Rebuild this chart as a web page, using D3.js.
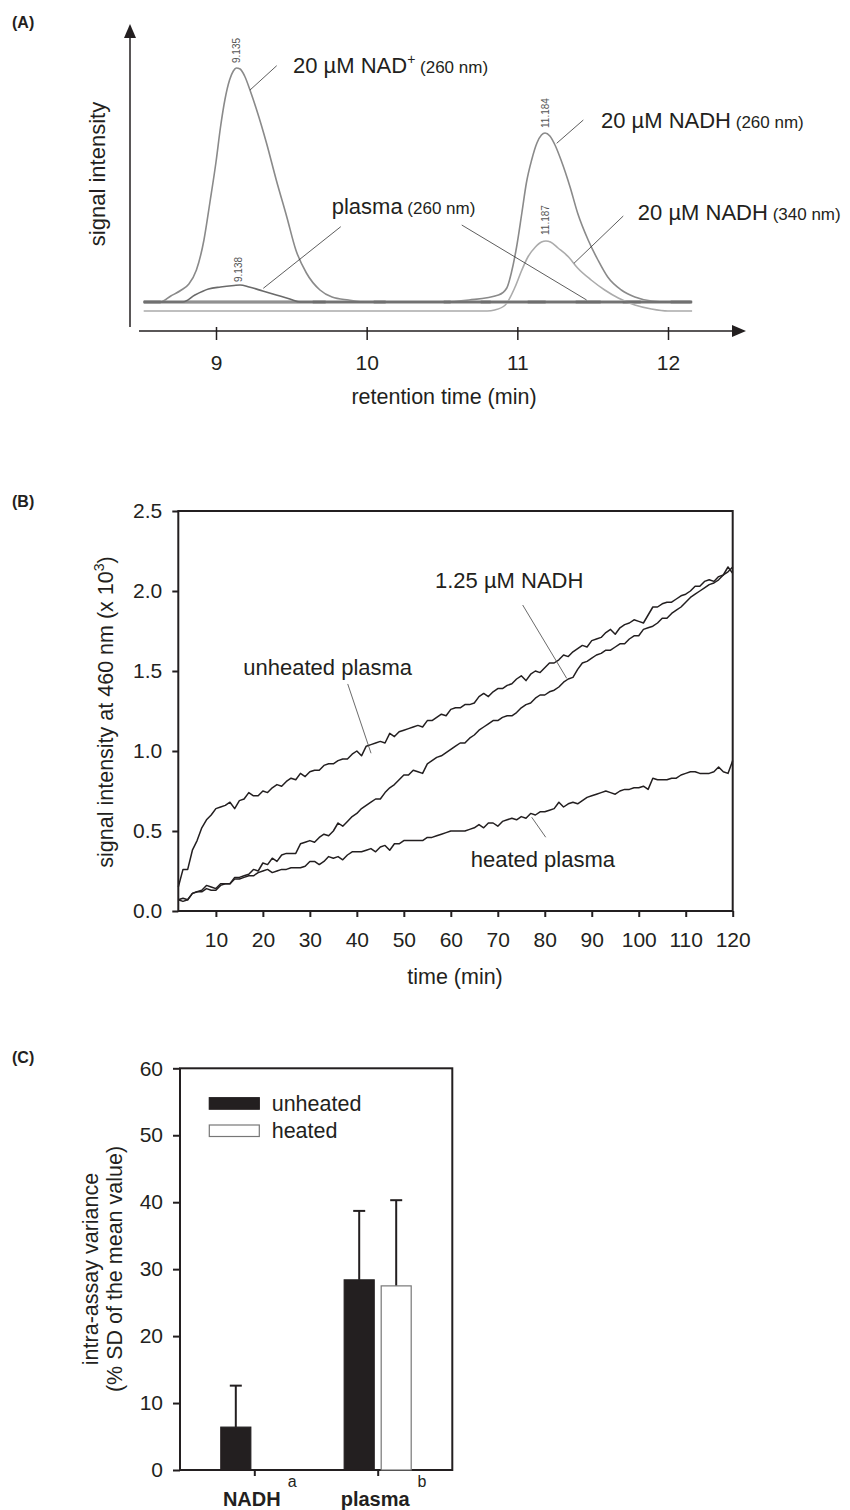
<!DOCTYPE html>
<html>
<head>
<meta charset="utf-8">
<script src="https://cdn.jsdelivr.net/npm/d3@7"></script>
<style>
  body { margin: 0; background: #fff; }
  svg text { font-family: "Liberation Sans", Arial, Helvetica, sans-serif; fill: #231f20; }
</style>
</head>
<body>
<div id="chart"></div>
<script>
// ---------- panel A: HPLC traces, [retention time (min), signal (a.u.)] ----------
const nadPlus260 = [[8.52,0],[8.63,0],[8.70,6],[8.77,12],[8.82,18],[8.87,32],[8.92,62],[8.96,100],
  [9.00,140],[9.03,175],[9.06,203],[9.09,222],[9.115,231],[9.135,234],[9.16,233],[9.19,226],[9.23,210],
  [9.27,192],[9.335,159],[9.40,122],[9.47,85],[9.53,52],[9.60,29],[9.69,12],[9.77,5],[9.88,2],[10.0,0],[12.16,0]]
const plasma260 = [[8.52,0],[8.78,0],[8.86,7],[8.95,13],[9.03,15],[9.12,16.5],[9.16,17],[9.22,15],
  [9.31,11],[9.40,7],[9.49,3],[9.56,0],[12.16,0]]
const nadh260 = [[8.52,0],[10.5,0],[10.68,2],[10.875,7],[10.93,14],[10.96,29],[10.995,55],[11.03,89],
  [11.06,119],[11.095,142],[11.13,159],[11.16,167],[11.184,169],[11.216,166],[11.25,157],[11.29,142],
  [11.35,115],[11.40,89],[11.47,62],[11.535,42],[11.60,25],[11.69,12],[11.78,5],[11.89,1],[12.0,0],[12.16,0]]
const nadh340 = [[8.52,-9],[10.80,-9],[10.85,-8],[10.92,-3],[10.985,15],[11.03,32],[11.07,45],[11.12,55],
  [11.16,60],[11.19,61],[11.22,60],[11.27,54],[11.34,45],[11.40,34],[11.49,22],[11.58,12],[11.67,4],
  [11.78,-3],[11.89,-7],[12.0,-9],[12.16,-9]]
const ticksA = [9, 10, 11, 12]

// ---------- panel B: fluorescence kinetics, one reading per minute ----------
const minutes = d3.range(2, 121)
const unheatedPlasma = [
  0.15,0.26,0.26,0.38,0.44,0.52,0.57,0.60,0.64,0.65,
  0.66,0.68,0.64,0.69,0.70,0.74,0.72,0.72,0.75,0.74,
  0.77,0.79,0.78,0.81,0.83,0.82,0.86,0.84,0.87,0.88,
  0.88,0.91,0.92,0.92,0.94,0.95,0.95,0.98,1.00,0.97,
  1.03,1.04,1.05,1.06,1.05,1.11,1.09,1.12,1.13,1.14,
  1.15,1.16,1.15,1.19,1.19,1.21,1.23,1.22,1.26,1.27,
  1.27,1.29,1.29,1.30,1.34,1.36,1.34,1.37,1.39,1.39,
  1.41,1.42,1.45,1.47,1.44,1.48,1.50,1.49,1.52,1.55,
  1.55,1.57,1.60,1.59,1.62,1.64,1.66,1.65,1.69,1.70,
  1.71,1.74,1.76,1.73,1.77,1.79,1.80,1.82,1.81,1.80,
  1.85,1.90,1.90,1.92,1.93,1.93,1.95,1.97,1.98,2.00,
  2.03,2.03,2.06,2.07,2.06,2.09,2.10,2.12,2.15]
const nadh125 = [
  0.07,0.08,0.07,0.11,0.12,0.13,0.16,0.15,0.14,0.17,
  0.17,0.17,0.21,0.21,0.22,0.23,0.26,0.25,0.30,0.29,
  0.33,0.31,0.35,0.36,0.36,0.36,0.42,0.43,0.44,0.43,
  0.46,0.48,0.47,0.50,0.55,0.53,0.56,0.59,0.61,0.64,
  0.66,0.68,0.70,0.70,0.74,0.77,0.79,0.82,0.85,0.85,
  0.88,0.87,0.86,0.92,0.94,0.96,0.97,0.99,1.01,1.03,
  1.05,1.05,1.08,1.10,1.13,1.15,1.17,1.19,1.19,1.21,
  1.22,1.22,1.24,1.27,1.29,1.30,1.33,1.35,1.35,1.37,
  1.38,1.40,1.43,1.45,1.46,1.51,1.55,1.56,1.58,1.60,
  1.61,1.63,1.63,1.65,1.67,1.67,1.70,1.72,1.72,1.76,
  1.77,1.78,1.80,1.83,1.83,1.86,1.88,1.90,1.93,1.96,
  1.98,2.00,2.02,2.04,2.05,2.07,2.10,2.15,2.11]
const heatedPlasma = [
  0.07,0.06,0.07,0.11,0.12,0.12,0.14,0.13,0.13,0.16,
  0.17,0.17,0.20,0.20,0.21,0.22,0.22,0.24,0.25,0.26,
  0.24,0.25,0.26,0.26,0.27,0.27,0.27,0.28,0.31,0.31,
  0.29,0.31,0.34,0.33,0.34,0.32,0.35,0.37,0.37,0.37,
  0.38,0.39,0.37,0.40,0.41,0.38,0.42,0.42,0.44,0.44,
  0.44,0.44,0.44,0.46,0.46,0.47,0.48,0.49,0.50,0.50,
  0.50,0.50,0.51,0.52,0.54,0.52,0.55,0.55,0.53,0.56,
  0.57,0.58,0.57,0.59,0.58,0.61,0.60,0.62,0.62,0.63,
  0.64,0.68,0.65,0.67,0.68,0.67,0.69,0.71,0.72,0.73,
  0.74,0.75,0.74,0.73,0.75,0.76,0.76,0.77,0.77,0.78,
  0.76,0.83,0.82,0.82,0.82,0.83,0.83,0.85,0.86,0.87,
  0.87,0.86,0.86,0.86,0.87,0.90,0.87,0.86,0.94]
const ticksBx = [10, 20, 30, 40, 50, 60, 70, 80, 90, 100, 110, 120]
const ticksBy = [0, 0.5, 1.0, 1.5, 2.0, 2.5]

// ---------- panel C: intra-assay variance ----------
const groups = ["NADH", "plasma"]
const groupSup = ["a", "b"]
const unheatedMean = [6.4, 28.4]
const unheatedSD = [6.2, 10.3]
const heatedMean = [null, 27.5]
const heatedSD = [null, 12.8]
const ticksCy = [0, 10, 20, 30, 40, 50, 60]

// annotation anchors, in data units of each panel
const labelsA = [
  { main: "20 µM NAD", sup: "+", nm: "(260 nm)", at: [9.511, 229] },
  { main: "plasma", sup: "", nm: "(260 nm)", at: [9.768, 88] },
  { main: "20 µM NADH", sup: "", nm: "(260 nm)", at: [11.555, 174] },
  { main: "20 µM NADH", sup: "", nm: "(340 nm)", at: [11.80, 82] }
]
const leadersA = [
  [[9.403, 236.3], [9.226, 212]],
  [[9.828, 75.3], [9.314, 13.7]],
  [[10.631, 77], [11.46, 2]],
  [[11.438, 182], [11.261, 158.7]],
  [[11.703, 86], [11.376, 38.7]]
]
const peakTags = [
  { text: "9.135", at: [9.135, 239] },
  { text: "9.138", at: [9.15, 20] },
  { text: "11.184", at: [11.184, 174] },
  { text: "11.187", at: [11.184, 67] }
]
const labelsB = [
  { text: "1.25 µM NADH", at: [56.64, 2.019], from: [75.3, 1.9125], to: [84.67, 1.454] },
  { text: "unheated plasma", at: [15.84, 1.475], from: [38.06, 1.419], to: [43.02, 0.986] },
  { text: "heated plasma", at: [64.24, 0.273], from: [77.22, 0.586], to: [80.2, 0.461] }
]

const ink = "#231f20"
const svg = d3.select("#chart").append("svg").attr("width", 850).attr("height", 1510)
svg.append("rect").attr("width", 850).attr("height", 1510).attr("fill", "#fff")

// panel letters
;[["(A)", 28], ["(B)", 507], ["(C)", 1063]].forEach(([t, y]) => {
  svg.append("text").attr("x", 12).attr("y", y)
    .style("font-size", "16px").style("font-weight", "bold").text(t)
})

// =================== panel A ===================
const gA = svg.append("g")
const xA = d3.scaleLinear().domain([9, 12]).range([216, 668])
const yA = d3.scaleLinear().domain([0, 240]).range([302, 62])
const lineA = d3.line().x(d => xA(d[0])).y(d => yA(d[1])).curve(d3.curveMonotoneX)

// arrow axes
gA.append("line").attr("x1", 130).attr("x2", 130).attr("y1", 327).attr("y2", 36)
  .attr("stroke", ink).attr("stroke-width", 1.5)
gA.append("path").attr("d", "M124,38L136,38L130,24Z").attr("fill", ink)
gA.append("line").attr("x1", 139).attr("x2", 734).attr("y1", 331).attr("y2", 331)
  .attr("stroke", ink).attr("stroke-width", 1.5)
gA.append("path").attr("d", "M732,325L732,337L746,331Z").attr("fill", ink)

const axA = gA.append("g").attr("transform", "translate(0,331)").style("color", ink)
  .call(d3.axisBottom(xA).tickValues(ticksA).tickSize(9).tickPadding(15).tickFormat(d3.format("d")))
axA.select(".domain").remove()
axA.selectAll(".tick line").attr("y1", -4).attr("stroke-width", 1.5)
axA.selectAll(".tick text").style("font-size", "21px")

gA.append("text").attr("x", 444).attr("y", 404).attr("text-anchor", "middle")
  .style("font-size", "21.5px").text("retention time (min)")
gA.append("text").attr("transform", "translate(105,174) rotate(-90)").attr("text-anchor", "middle")
  .style("font-size", "22px").text("signal intensity")

// thick common baseline of the 260 nm runs, with the darker overlapping bits
const span = d3.extent(nadPlus260, d => d[0])
const baseLine = [[span[0], 0], [span[1], 0]]
gA.append("path").attr("d", lineA(baseLine)).attr("fill", "none")
  .attr("stroke", "#a3a3a3").attr("stroke-width", 3.5)
gA.append("path").attr("d", lineA(baseLine)).attr("fill", "none")
  .attr("stroke", "#4a4a4a").attr("stroke-width", 2.5)
  .attr("stroke-dasharray", "17,152,13,48,12,58,7,30,10,37,18,30,25,22,18,30,20,40")

const tracesA = [
  { data: nadh340, color: "#ababab" },
  { data: nadPlus260, color: "#8a8a8a" },
  { data: nadh260, color: "#8a8a8a" },
  { data: plasma260, color: "#6a6a6a" }
]
tracesA.forEach(tr => {
  gA.append("path").attr("d", lineA(tr.data)).attr("fill", "none")
    .attr("stroke", tr.color).attr("stroke-width", 1.6)
})

leadersA.forEach(l => {
  gA.append("line")
    .attr("x1", xA(l[0][0])).attr("y1", yA(l[0][1]))
    .attr("x2", xA(l[1][0])).attr("y2", yA(l[1][1]))
    .attr("stroke", "#333").attr("stroke-width", 0.8)
})

labelsA.forEach(l => {
  const t = gA.append("text").attr("x", xA(l.at[0])).attr("y", yA(l.at[1]))
  t.append("tspan").style("font-size", "22px").text(l.main)
  if (l.sup) {
    t.append("tspan").style("font-size", "14px").attr("dy", -9).text(l.sup)
    t.append("tspan").style("font-size", "17px").attr("dy", 9).text(" " + l.nm)
  } else {
    t.append("tspan").style("font-size", "17px").text(" " + l.nm)
  }
})

peakTags.forEach(p => {
  gA.append("text")
    .attr("transform", `translate(${xA(p.at[0]) + 3.5},${yA(p.at[1])}) rotate(-90)`)
    .style("font-size", "10px").style("fill", "#555").text(p.text)
})

// =================== panel B ===================
const gB = svg.append("g")
const xB = d3.scaleLinear().domain([2, 120]).range([178.3, 732.7])
const yB = d3.scaleLinear().domain([0, 2.5]).range([911, 511])
const lineB = d3.line().x((d, i) => xB(minutes[i])).y(d => yB(d))

;[heatedPlasma, nadh125, unheatedPlasma].forEach(s => {
  gB.append("path").attr("d", lineB(s)).attr("fill", "none")
    .attr("stroke", ink).attr("stroke-width", 1.5).attr("stroke-linejoin", "round")
})

gB.append("rect").attr("x", xB(2)).attr("y", yB(2.5))
  .attr("width", xB(120) - xB(2)).attr("height", yB(0) - yB(2.5))
  .attr("fill", "none").attr("stroke", ink).attr("stroke-width", 2)

const axBx = gB.append("g").attr("transform", "translate(0,911)").style("color", ink)
  .call(d3.axisBottom(xB).tickValues(ticksBx).tickSize(6).tickPadding(15))
axBx.select(".domain").remove()
axBx.selectAll(".tick line").attr("stroke-width", 2)
axBx.selectAll(".tick text").style("font-size", "21px")

const axBy = gB.append("g").attr("transform", `translate(${xB(2)},0)`).style("color", ink)
  .call(d3.axisLeft(yB).tickValues(ticksBy).tickSize(6).tickPadding(10).tickFormat(d3.format(".1f")))
axBy.select(".domain").remove()
axBy.selectAll(".tick line").attr("stroke-width", 2)
axBy.selectAll(".tick text").style("font-size", "21px")

gB.append("text").attr("x", 455).attr("y", 984).attr("text-anchor", "middle")
  .style("font-size", "21.5px").text("time (min)")
const yt = gB.append("text").attr("transform", "translate(113,712) rotate(-90)")
  .attr("text-anchor", "middle").style("font-size", "21.5px")
yt.append("tspan").text("signal intensity at 460 nm (x 10")
yt.append("tspan").style("font-size", "14px").attr("dy", -9).text("3")
yt.append("tspan").attr("dy", 9).text(")")

labelsB.forEach(l => {
  gB.append("line")
    .attr("x1", xB(l.from[0])).attr("y1", yB(l.from[1]))
    .attr("x2", xB(l.to[0])).attr("y2", yB(l.to[1]))
    .attr("stroke", "#444").attr("stroke-width", 0.8)
  gB.append("text").attr("x", xB(l.at[0])).attr("y", yB(l.at[1]))
    .style("font-size", "22px").text(l.text)
})

// =================== panel C ===================
const gC = svg.append("g")
const yC = d3.scaleLinear().domain([0, 60]).range([1470, 1068.3])
const xC = d3.scalePoint().domain(groups).range([254.3, 377.7])
const sub = d3.scaleBand().domain(["unheated", "heated"]).range([-33.5, 33.5]).paddingInner(0.189)

gC.append("rect").attr("x", 180).attr("y", yC(60)).attr("width", 272.3).attr("height", yC(0) - yC(60))
  .attr("fill", "none").attr("stroke", ink).attr("stroke-width", 2)

const axCy = gC.append("g").attr("transform", "translate(180,0)").style("color", ink)
  .call(d3.axisLeft(yC).tickValues(ticksCy).tickSize(7).tickPadding(10))
axCy.select(".domain").remove()
axCy.selectAll(".tick line").attr("stroke-width", 2)
axCy.selectAll(".tick text").style("font-size", "21px")

const axCx = gC.append("g").attr("transform", "translate(0,1470)").style("color", ink)
  .call(d3.axisBottom(xC).tickSize(6).tickFormat(""))
axCx.select(".domain").remove()
axCx.selectAll(".tick line").attr("stroke-width", 2)

const barRows = []
groups.forEach((g, i) => {
  barRows.push({ g, kind: "unheated", v: unheatedMean[i], sd: unheatedSD[i] })
  if (heatedMean[i] != null) barRows.push({ g, kind: "heated", v: heatedMean[i], sd: heatedSD[i] })
})

// error bars (upper only) drawn behind bars
barRows.forEach(d => {
  const cx = xC(d.g) + sub(d.kind) + sub.bandwidth() / 2
  gC.append("line").attr("x1", cx).attr("x2", cx).attr("y1", yC(d.v)).attr("y2", yC(d.v + d.sd))
    .attr("stroke", ink).attr("stroke-width", 2)
  gC.append("line").attr("x1", cx - 6).attr("x2", cx + 6).attr("y1", yC(d.v + d.sd)).attr("y2", yC(d.v + d.sd))
    .attr("stroke", ink).attr("stroke-width", 2)
})

gC.selectAll("rect.bar").data(barRows).join("rect").attr("class", "bar")
  .attr("x", d => xC(d.g) + sub(d.kind))
  .attr("y", d => yC(d.v))
  .attr("width", sub.bandwidth())
  .attr("height", d => yC(0) - yC(d.v))
  .attr("fill", d => d.kind === "unheated" ? ink : "#fff")
  .attr("stroke", d => d.kind === "unheated" ? ink : "#777")
  .attr("stroke-width", 1.2)

// legend
;[["unheated", ink, "#231f20", 1097.7], ["heated", "#fff", "#777", 1125]].forEach(([t, f, s, y]) => {
  gC.append("rect").attr("x", 209.3).attr("y", y).attr("width", 50).attr("height", 11.5)
    .attr("fill", f).attr("stroke", s).attr("stroke-width", 1.2)
  gC.append("text").attr("x", 271.7).attr("y", y + 13).style("font-size", "21.5px").text(t)
})

// category labels with superscripts
groups.forEach((g, i) => {
  const t = gC.append("text").attr("x", xC(g) - 2.5).attr("y", 1506).attr("text-anchor", "middle")
    .style("font-size", "20px").style("font-weight", "bold").text(g)
  const bb = t.node().getBBox()
  gC.append("text").attr("x", bb.x + bb.width + 7).attr("y", 1486.5)
    .style("font-size", "16px").text(groupSup[i])
})

const yc = gC.append("text").attr("transform", "translate(0,1269) rotate(-90)")
  .attr("text-anchor", "middle").style("font-size", "21.5px")
yc.append("tspan").attr("x", 0).attr("y", 97.5).text("intra-assay variance")
yc.append("tspan").attr("x", 0).attr("y", 121.5).text("(% SD of the mean value)")
</script>
</body>
</html>
